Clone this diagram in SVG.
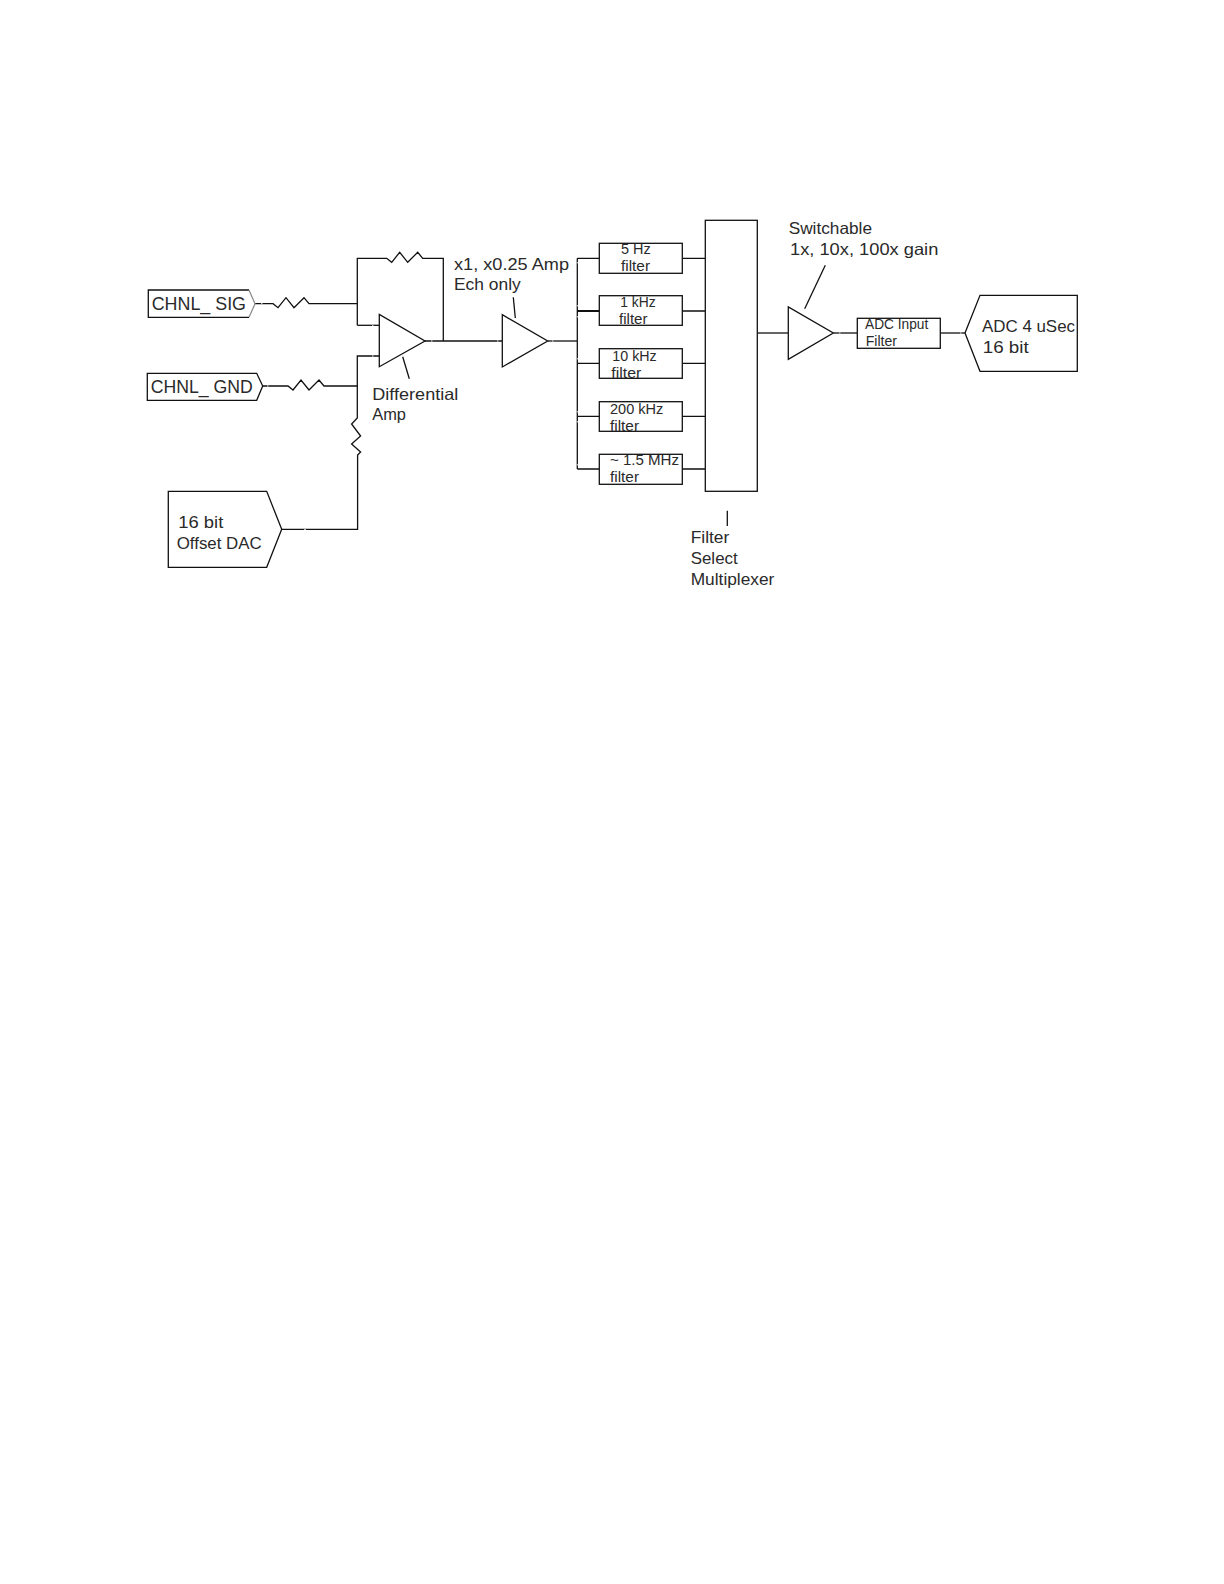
<svg xmlns="http://www.w3.org/2000/svg" width="1224" height="1584" viewBox="0 0 1224 1584">
<style>
.s{fill:none;stroke:#111;stroke-width:1.3;stroke-linejoin:miter}
.b{fill:#fff;stroke:#111;stroke-width:1.3}
text{font-family:"Liberation Sans",Arial,sans-serif;fill:#2a2a2a;font-size:16.5px}
.l{font-size:18px}
.f{font-size:14px}
.gap{stroke:#bbb;stroke-width:1.3;fill:none}
</style>
<rect width="1224" height="1584" fill="#fff"/>
<g id="connectors" class="s">
<path d="M255 303.7H273l5 4 8-10 8 10 10-10 5 6H357.3"/>
<path d="M357.3 325.3V258.3H386.7l5 4 8-10 8 10 10-10 5 6H443.3V341"/>
<path d="M357.3 325.3H379.3"/>
<path d="M379.3 356H357.3V418l-5.700 6 9 12-9 8 9 8-3 3V529.3H281.7"/>
<path d="M262.7 386H288l5 4 8-10 8 10 10-10 5 6H357.3"/>
<path d="M425 341H502.3"/>
<path d="M547.7 341H577.3"/>
<path d="M577.3 258.3V469"/>
<path d="M577.3 258.3H599.3M577.3 363.3H599.3M577.3 416.3H599.3M577.3 469H599.3"/>
<path d="M577.3 311H599.3" stroke-width="2"/>
<path d="M682.3 258.3H705.3M682.3 311H705.3M682.3 363.3H705.3M682.3 416.3H705.3M682.3 469H705.3"/>
<path d="M757.3 333H788.3"/>
<path d="M833.3 333H857.3"/>
<path d="M940.3 333H965"/>
<path d="M402.7 356.7L409.3 378.7"/>
<path d="M513.3 297.3L515.3 318"/>
<path d="M727.3 510.7V526"/>
<path d="M825.3 265.3L804.7 308.7"/>
</g>
<g id="gaps" class="gap">
<path d="M261 303.7h1.5M267 386h1.5M304 529.3h2M372 325.3h1.5M372 356h1.500M431 341h1.500M497 341h1.500M552 341h1.500M577.300 262v1.500M577.300 305v1.500M577.300 316v1.500M577.300 358v1.500M577.300 411v1.500M577.300 421v1.500M577.300 464v1.500M839 333h1.500M960 333h1.500"/>
</g>
<g id="chnl-sig">
<path class="s" d="M249 290H148.3V317.3H249"/>
<path d="M249 290L255 303.7L249 317.3" fill="none" stroke="#888" stroke-width="1.2"/>
<text class="l" x="151.7" y="310.3" textLength="94.3" lengthAdjust="spacingAndGlyphs">CHNL_ SIG</text>
</g>
<g id="chnl-gnd">
<path class="s" d="M256.7 373.3H147.3V400.3H256.7L262.7 386Z"/>
<text class="l" x="150.7" y="393.3" textLength="102" lengthAdjust="spacingAndGlyphs">CHNL_ GND</text>
</g>
<g id="offset-dac">
<path class="s" d="M168.3 491.3H266.7L281.7 529.3L266.7 567.3H168.3Z"/>
<text x="178.3" y="528.3" textLength="45" lengthAdjust="spacingAndGlyphs">16 bit</text>
<text x="176.7" y="549" textLength="85" lengthAdjust="spacingAndGlyphs">Offset DAC</text>
</g>
<g id="diff-amp">
<path class="b" d="M379.3 314.5V366.7L425 341Z"/>
<text x="372.3" y="400" textLength="86" lengthAdjust="spacingAndGlyphs">Differential</text>
<text x="372.3" y="420" textLength="33.7" lengthAdjust="spacingAndGlyphs">Amp</text>
</g>
<g id="ech-amp">
<path class="b" d="M502.3 314.7V367L547.7 341Z"/>
<text x="454" y="270" textLength="115" lengthAdjust="spacingAndGlyphs">x1, x0.25 Amp</text>
<text x="454" y="290.3" textLength="66.7" lengthAdjust="spacingAndGlyphs">Ech only</text>
</g>
<g id="filter-5hz">
<rect class="b" x="599.3" y="243.3" width="83" height="30"/>
<text class="f" x="621" y="253.7" textLength="29.7" lengthAdjust="spacingAndGlyphs">5 Hz</text>
<text class="f" x="621" y="270.7" textLength="29" lengthAdjust="spacingAndGlyphs">filter</text>
</g>
<g id="filter-1khz">
<rect class="b" x="599.3" y="295.7" width="83" height="29.6"/>
<text class="f" x="620.3" y="306.7" textLength="35.4" lengthAdjust="spacingAndGlyphs">1 kHz</text>
<text class="f" x="619" y="323.7" textLength="28.5" lengthAdjust="spacingAndGlyphs">filter</text>
</g>
<g id="filter-10khz">
<rect class="b" x="599.3" y="348.7" width="83" height="29.6"/>
<text class="f" x="612.3" y="360.7" textLength="44.4" lengthAdjust="spacingAndGlyphs">10 kHz</text>
<text class="f" x="611.3" y="378.3" textLength="30" lengthAdjust="spacingAndGlyphs">filter</text>
</g>
<g id="filter-200khz">
<rect class="b" x="599.3" y="401.7" width="83" height="29.6"/>
<text class="f" x="610" y="414" textLength="53.3" lengthAdjust="spacingAndGlyphs">200 kHz</text>
<text class="f" x="610" y="431" textLength="29" lengthAdjust="spacingAndGlyphs">filter</text>
</g>
<g id="filter-1-5mhz">
<rect class="b" x="599.3" y="454.3" width="83" height="30"/>
<text class="f" x="610" y="465" textLength="69" lengthAdjust="spacingAndGlyphs">~ 1.5 MHz</text>
<text class="f" x="610" y="481.7" textLength="29" lengthAdjust="spacingAndGlyphs">filter</text>
</g>
<g id="multiplexer">
<rect class="b" x="705.3" y="220.3" width="52" height="271"/>
<text x="690.7" y="542.7" textLength="38.6" lengthAdjust="spacingAndGlyphs">Filter</text>
<text x="690.7" y="563.5" textLength="47" lengthAdjust="spacingAndGlyphs">Select</text>
<text x="690.7" y="585" textLength="83.7" lengthAdjust="spacingAndGlyphs">Multiplexer</text>
</g>
<g id="switchable-amp">
<path class="b" d="M788.3 307V359.3L833.3 333Z"/>
<text x="788.7" y="234" textLength="83.3" lengthAdjust="spacingAndGlyphs">Switchable</text>
<text x="790" y="254.7" textLength="148.3" lengthAdjust="spacingAndGlyphs">1x, 10x, 100x gain</text>
</g>
<g id="adc-filter">
<rect class="b" x="857.3" y="318.3" width="83" height="30"/>
<text class="f" x="865" y="329.3" textLength="63.3" lengthAdjust="spacingAndGlyphs">ADC Input</text>
<text class="f" x="865.7" y="346" textLength="31.3" lengthAdjust="spacingAndGlyphs">Filter</text>
</g>
<g id="adc">
<path class="s" d="M965 333L980 295.3H1077.3V371.3H980Z"/>
<text x="982" y="332" textLength="93" lengthAdjust="spacingAndGlyphs">ADC 4 uSec</text>
<text x="982.7" y="352.7" textLength="46" lengthAdjust="spacingAndGlyphs">16 bit</text>
</g>
</svg>
